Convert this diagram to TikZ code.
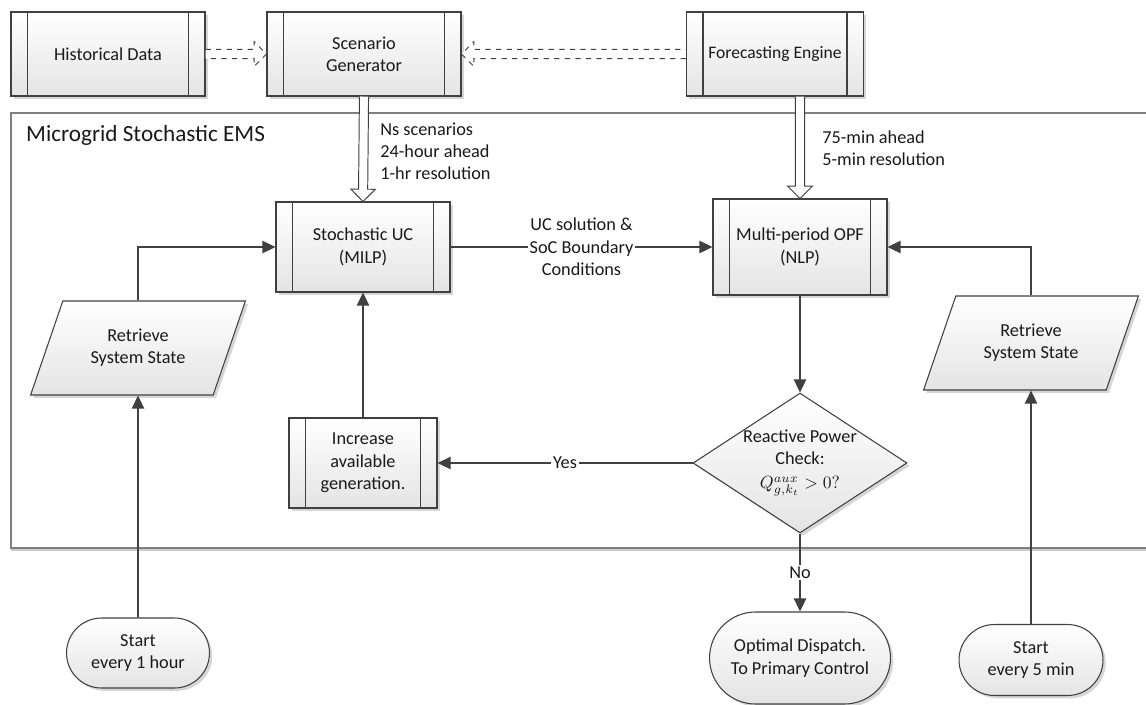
\documentclass[tikz,border=0pt]{standalone}
\usepackage{fontspec}
\setmainfont{Carlito}
\usetikzlibrary{arrows.meta,positioning,calc,shapes.geometric,shapes.misc,shadows}
\definecolor{ink}{HTML}{1A1A1A}
\definecolor{edgeC}{HTML}{404040}
\definecolor{frameC}{HTML}{7F7F7F}
\definecolor{boxTop}{HTML}{FFFFFF}
\definecolor{boxBot}{HTML}{E4E4E4}
\definecolor{shadeC}{HTML}{B5B5B5}
\tikzset{
  >={Triangle[length=7.5pt,width=7pt]},
  base/.style={draw=edgeC,line width=0.6pt,top color=boxTop,bottom color=boxBot,
    text=ink,align=center,font=\fontsize{10.4}{12.7}\selectfont,
    drop shadow={shadow xshift=1.6pt,shadow yshift=-1.6pt,fill=shadeC,opacity=0.55}},
  proc/.style={base,rectangle,inner sep=2pt,
    path picture={
      \draw[edgeC,line width=0.6pt] ([xshift=0.33cm]path picture bounding box.north west)
        -- ([xshift=0.33cm]path picture bounding box.south west);
      \draw[edgeC,line width=0.6pt] ([xshift=-0.33cm]path picture bounding box.north east)
        -- ([xshift=-0.33cm]path picture bounding box.south east);}},
  io/.style={base,trapezium,trapezium left angle=63,trapezium right angle=117,
    trapezium stretches=true,minimum width=4.3cm,minimum height=1.88cm,inner sep=1pt},
  term/.style={base,rounded rectangle,inner sep=2pt},
  decide/.style={base,diamond,shape aspect=1.5,inner sep=-6pt,
    minimum width=4.28cm,minimum height=2.8cm},
  flow/.style={draw=edgeC,line width=1.1pt,->},
  lbl/.style={fill=white,text=ink,inner sep=1pt,align=center,
    font=\fontsize{10.4}{12.7}\selectfont},
  note/.style={anchor=west,align=left,inner sep=0pt,text=ink,
    font=\fontsize{10.4}{12.5}\selectfont},
  hollow/.style={draw=edgeC,line width=0.55pt,fill=white,line join=miter},
}
% hollow block arrow: #1 extra style, #2 from, #3 to
\newcommand{\hollowarr}[3]{%
  \coordinate (hb) at ($(#3)!7pt!(#2)$);
  \draw[hollow,#1] ($(#2)!2.6pt!90:(#3)$) -- ($(hb)!2.6pt!90:(#3)$)
    -- ($(hb)!7pt!90:(#3)$) -- (#3) -- ($(hb)!7pt!-90:(#3)$)
    -- ($(hb)!2.6pt!-90:(#3)$) -- ($(#2)!2.6pt!-90:(#3)$);
}

\begin{document}
\begin{tikzpicture}[x=0.02cm,y=-0.02cm]
\useasboundingbox (0,0) rectangle (1146,704);

% ================= EMS FRAME =================
\draw[frameC,line width=0.7pt,fill=white,
  drop shadow={shadow xshift=0pt,shadow yshift=-1.8pt,fill=shadeC,opacity=0.7}]
  (11,113) rectangle (1156,548);
\node[anchor=west,text=ink,font=\fontsize{13.2}{15}\selectfont] (emsT) at (20,135)
  {Microgrid Stochastic EMS};

% ================= DATA SOURCES =================
\node[proc,minimum width=3.88cm,minimum height=1.68cm] (hist) at (108,54) {Historical Data};
\node[proc,minimum width=3.88cm,minimum height=1.68cm] (scen) at (364,54) {Scenario\\Generator};
\node[proc,minimum width=3.54cm,minimum height=1.68cm,font=\fontsize{10}{12.7}\selectfont]
  (fore) at (775,54) {Forecasting Engine};

% ================= OPTIMISATION =================
\node[proc,minimum width=3.48cm,minimum height=1.8cm] (uc) at (363,247) {Stochastic UC\\(MILP)};
\node[proc,minimum width=3.48cm,minimum height=1.92cm] (opf) at (800,247) {Multi-period OPF\\(NLP)};
\node[proc,minimum width=2.96cm,minimum height=1.8cm] (inc) at (363,463) {Increase\\available\\generation.};
\node[decide] (chk) at (800,463) {Reactive Power\\Check:\\[1pt]$Q^{aux}_{g,k_t} > 0?$};

\node[io] (retL) at (138,348) {Retrieve\\System State};
\node[io] (retR) at (1031,343) {Retrieve\\System State};

\node[term,minimum width=3.0cm,minimum height=1.4cm] (startL) at (138,653) {Start\\every 1 hour};
\node[term,minimum width=3.02cm,minimum height=1.42cm] (startR) at (1031,660) {Start\\every 5 min};
\node[term,minimum width=3.76cm,minimum height=1.84cm] (opt) at (800,658) {Optimal Dispatch.\\To Primary Control};

\node[note] (nsN) at (380,151) {Ns scenarios\\24-hour ahead\\1-hr resolution};
\node[note] (foreN) at (822,148) {75-min ahead\\5-min resolution};

% ================= BLOCK ARROWS =================
\coordinate (foreOut) at (fore.south -| opf.north);
\hollowarr{dashed}{hist.east}{scen.west}
\hollowarr{dashed}{fore.west}{scen.east}
\hollowarr{}{scen.south}{uc.north}
\hollowarr{}{foreOut}{opf.north}

% ================= FLOW =================
\draw[flow] (uc.east) -- (opf.west)
  node[lbl,midway] (ucN) {UC solution \&\\SoC Boundary\\Conditions};
\draw[flow] (opf.south) -- (chk.north);
\draw[flow] (chk.west) -- (inc.east) node[lbl,midway] (yesN) {Yes};
\draw[flow] (inc.north) -- (uc.south);
\draw[flow] (chk.south) -- (opt.north) node[lbl,midway] (noN) {No};
\draw[flow] (retL.north) |- (uc.west);
\draw[flow] (startL.north) -- (retL.south);
\draw[flow] (retR.north) |- (opf.east);
\draw[flow] (startR.north) -- (retR.south);

\end{tikzpicture}
\end{document}
